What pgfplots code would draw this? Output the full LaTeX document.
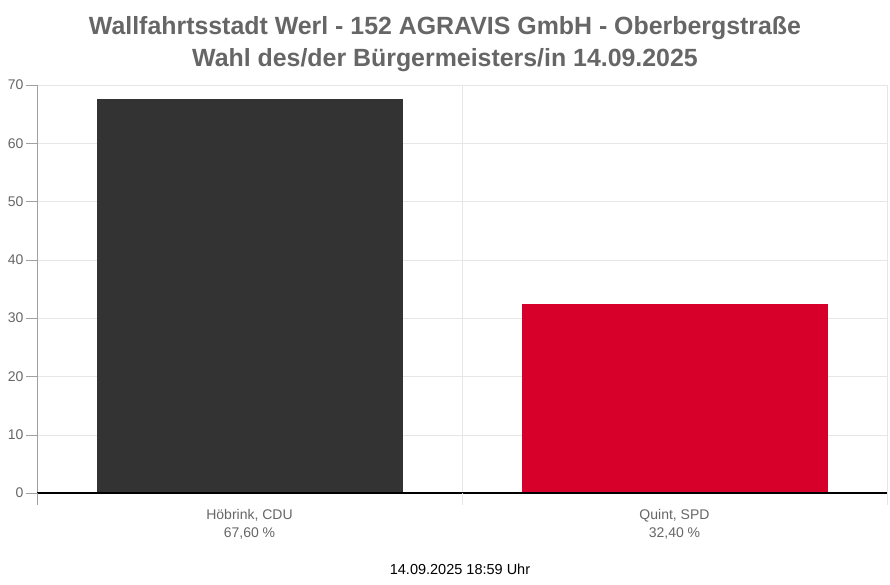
\documentclass[border=0pt]{standalone}
\usepackage{pgfplots}
\pgfplotsset{compat=1.18}
\usepackage{fontspec}
\setmainfont{Liberation Sans}
\definecolor{titlegray}{HTML}{666666}
\definecolor{cdu}{HTML}{333333}
\definecolor{spd}{HTML}{D7002A}
\definecolor{gridc}{HTML}{E6E6E6}
\definecolor{axisc}{HTML}{A0A0A0}
\begin{document}
\begin{tikzpicture}[x=1pt,y=1pt]
\path[use as bounding box] (-37,-92) rectangle (853,493);
\begin{axis}[
  at={(0,0)}, anchor=south west,
  scale only axis, width=850pt, height=408pt,
  xmin=-0.5, xmax=1.5, ymin=0, ymax=70,
  ytick={0,10,...,70},
  xtick={-0.5,0.5,1.5},
  xticklabels={},
  xmajorgrids, ymajorgrids, major grid style={gridc},
  axis x line*=bottom, axis y line*=left,
  axis line style={axisc},
  x axis line style={draw=none},
  xtick style={draw=none},
  ytick style={axisc},
  major tick length=11pt,
  tick align=outside,
  yticklabel style={font=\fontsize{14}{16}\selectfont, text=titlegray, xshift=1pt},
  /pgf/number format/assume math mode=true,
  ybar, bar width=0.72, bar shift=0pt,
  clip=false,
]
\addplot[fill=cdu, draw=none] coordinates {(0,67.6)};
\addplot[fill=spd, draw=none] coordinates {(1,32.4)};
\draw[black, line width=1.3pt] (axis cs:-0.5,0) -- (axis cs:1.5,0);
\end{axis}
\draw[axisc] (0,0) -- (0,-12);
\draw[gridc] (425,0) -- (425,-12);
\draw[gridc] (850,0) -- (850,-12);
\node[text=titlegray, font=\bfseries\fontsize{24.9}{32}\selectfont, align=center] at (408,449) {Wallfahrtsstadt Werl - 152 AGRAVIS GmbH - Oberbergstraße\\Wahl des/der Bürgermeisters/in 14.09.2025};
\node[text=titlegray, font=\fontsize{14}{18}\selectfont, align=center] at (212.5,-31) {Höbrink, CDU\\67,60 \%};
\node[text=titlegray, font=\fontsize{14}{18}\selectfont, align=center] at (637.5,-31) {Quint, SPD\\32,40 \%};
\node[text=black, font=\fontsize{14.5}{16}\selectfont] at (423,-76) {14.09.2025 18:59 Uhr};
\end{tikzpicture}
\end{document}
